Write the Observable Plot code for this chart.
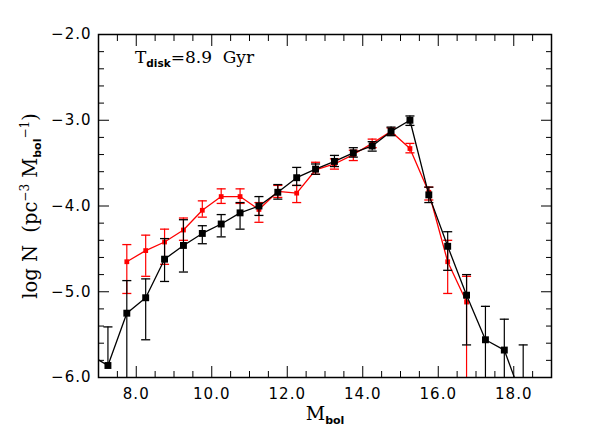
<!DOCTYPE html>
<html><head><meta charset="utf-8">
<script src="https://cdn.jsdelivr.net/npm/d3@7"></script>
<script src="https://cdn.jsdelivr.net/npm/@observablehq/plot@0.6"></script>
<style>body{margin:0;background:#fff}</style>
</head><body><div id="chart"></div>
<script>
// Black series (model A)
const blackMbol  = [6.75,7.25,7.75,8.25,8.75,9.25,9.75,10.25,10.75,11.25,11.75,12.25,12.75,13.25,13.75,14.25,14.75,15.25,15.75,16.25,16.75,17.25,17.75,18.25];
const blackLogN  = [-5.73,-5.86,-5.25,-5.07,-4.62,-4.46,-4.32,-4.21,-4.08,-4.00,-3.84,-3.67,-3.57,-3.48,-3.38,-3.30,-3.13,-3.00,-3.87,-4.47,-5.04,-5.56,-5.68,-6.28];
const blackUpper = [null,-5.41,-4.87,-4.85,-4.38,-4.16,-4.23,-4.10,-3.96,-3.89,-3.75,-3.55,-3.51,-3.41,-3.32,-3.25,-3.08,-2.95,-3.78,-4.30,-4.80,-5.17,-5.32,-5.62];
const blackLower = [null,null,-7,-5.56,-4.88,-4.77,-4.44,-4.36,-4.27,-4.11,-3.92,-3.76,-3.63,-3.54,-3.43,-3.36,-3.18,-3.06,-3.96,-4.75,-5.62,-7,-7,-7];

// Red series (model B)
const redMbol  = [7.75,8.25,8.75,9.25,9.75,10.25,10.75,11.25,11.75,12.25,12.75,13.25,13.75,14.25,14.75,15.25,15.75,16.25,16.75];
const redLogN  = [-4.65,-4.52,-4.42,-4.28,-4.05,-3.89,-3.89,-4.04,-3.83,-3.85,-3.58,-3.51,-3.40,-3.27,-3.13,-3.33,-3.84,-4.65,-5.12];
const redUpper = [-4.45,-4.34,-4.27,-4.14,-3.94,-3.80,-3.80,-3.96,-3.76,-3.76,-3.49,-3.45,-3.35,-3.22,-3.09,-3.27,-3.78,-4.40,-4.82];
const redLower = [-5.02,-4.82,-4.68,-4.40,-4.13,-3.97,-3.97,-4.19,-3.90,-3.96,-3.63,-3.57,-3.47,-3.32,-3.17,-3.38,-3.93,-5.02,-7];

// Axis ticks
const xTickLabels = [8, 10, 12, 14, 16, 18];
const xMinorTicks = [7.5,8.5,9,9.5,10.5,11,11.5,12.5,13,13.5,14.5,15,15.5,16.5,17,17.5,18.5];
const yTickLabels = [-6, -5, -4, -3, -2];
const yMinorTicks = [-5.8,-5.6,-5.4,-5.2,-4.8,-4.6,-4.4,-4.2,-3.8,-3.6,-3.4,-3.2,-2.8,-2.6,-2.4,-2.2];

const title = {main: "T", sub: "disk", rest: "=8.9  Gyr"};

function rows(xs, ys, hi, lo) {
  return xs.map((x, i) => ({x, y: ys[i], hi: hi[i], lo: lo[i]}));
}
const black = rows(blackMbol, blackLogN, blackUpper, blackLower);
const red = rows(redMbol, redLogN, redUpper, redLower);
const cap = 0.12;

function seriesMarks(data, color, r) {
  const withHi = data.filter(d => d.hi != null);
  const withLo = data.filter(d => d.lo != null);
  return [
    Plot.ruleX(withHi, {x: "x", y1: d => d.lo ?? d.y, y2: "hi", stroke: color, strokeWidth: 1.2, clip: true}),
    Plot.link(withHi, {x1: d => d.x - cap, x2: d => d.x + cap, y1: "hi", y2: "hi", stroke: color, strokeWidth: 1.3, clip: true}),
    Plot.link(withLo, {x1: d => d.x - cap, x2: d => d.x + cap, y1: "lo", y2: "lo", stroke: color, strokeWidth: 1.3, clip: true}),
    Plot.line(data, {x: "x", y: "y", stroke: color, strokeWidth: 1.3, clip: true}),
    Plot.dot(data, {x: "x", y: "y", symbol: "square", fill: color, r, clip: true})
  ];
}

const fmt = d3.format(".1f");
const chart = Plot.plot({
  width: 598, height: 435,
  marginLeft: 98, marginRight: 47, marginTop: 34, marginBottom: 58,
  x: {domain: [7, 19]},
  y: {domain: [-6, -2]},
  style: {fontFamily: "DejaVu Sans", fontSize: "15px", letterSpacing: "1px", color: "black", background: "white"},
  marks: [
    ...seriesMarks(red, "#ff0000", 2.7),
    ...seriesMarks(black, "#000000", 3.9),
    Plot.axisX(xTickLabels, {anchor: "bottom", tickSize: -11, fill: "none", label: null}),
    Plot.axisX(xMinorTicks, {anchor: "bottom", tickSize: -6, fill: "none", label: null}),
    Plot.axisX(xTickLabels, {anchor: "top", tickSize: -11, fill: "none", label: null}),
    Plot.axisX(xMinorTicks, {anchor: "top", tickSize: -6, fill: "none", label: null}),
    Plot.axisY(yTickLabels, {anchor: "left", tickSize: -11, fill: "none", label: null}),
    Plot.axisY(yMinorTicks, {anchor: "left", tickSize: -6, fill: "none", label: null}),
    Plot.axisY(yTickLabels, {anchor: "right", tickSize: -11, fill: "none", label: null}),
    Plot.axisY(yMinorTicks, {anchor: "right", tickSize: -6, fill: "none", label: null}),
    Plot.axisX(xTickLabels, {anchor: "bottom", tickSize: 0, tickPadding: 11, tickFormat: fmt, label: null}),
    Plot.axisY(yTickLabels, {anchor: "left", tickSize: 0, tickPadding: 7, tickFormat: fmt, label: null, ariaLabel: "y-labels"}),
    Plot.frame({stroke: "black", strokeWidth: 1.5})
  ]
});
document.getElementById("chart").appendChild(chart);

const svg = d3.select(chart);
// wider spacing for the y tick labels, as in the reference
svg.selectAll('g[aria-label="y-axis tick label"] text').style("letter-spacing", "4px");

// Title inside the plot
const t = svg.append("text").attr("x", 135).attr("y", 63).attr("text-anchor", "start")
  .style("font-family", "DejaVu Serif").style("font-size", "17px").style("letter-spacing", "0px")
  .style("white-space", "pre").attr("fill", "black");
t.append("tspan").text(title.main);
t.append("tspan").attr("dy", 4).style("font-family", "DejaVu Sans").style("font-weight", "bold").style("font-size", "10.5px").text(title.sub);
t.append("tspan").attr("dy", -4).text(title.rest);

// x label
const xl = svg.append("text").attr("x", 325).attr("y", 420).attr("text-anchor", "middle")
  .style("font-family", "DejaVu Serif").style("font-size", "19px").style("letter-spacing", "0px").attr("fill", "black");
xl.append("tspan").text("M");
xl.append("tspan").attr("dy", 4).style("font-family", "DejaVu Sans").style("font-weight", "bold").style("font-size", "11px").text("bol");

// y label
const yl = svg.append("text").attr("transform", "translate(37,206) rotate(-90)").attr("text-anchor", "middle")
  .style("font-family", "DejaVu Serif").style("font-size", "19.5px").style("letter-spacing", "0px")
  .style("white-space", "pre").attr("fill", "black");
yl.append("tspan").text("log N  (pc");
yl.append("tspan").attr("dy", -8).style("font-size", "12px").text("−3");
yl.append("tspan").attr("dy", 8).text(" M");
yl.append("tspan").attr("dy", 4).style("font-family", "DejaVu Sans").style("font-weight", "bold").style("font-size", "11px").text("bol");
yl.append("tspan").attr("dy", -12).style("font-size", "12px").text("−1");
yl.append("tspan").attr("dy", 8).text(")");
</script>
</body></html>
